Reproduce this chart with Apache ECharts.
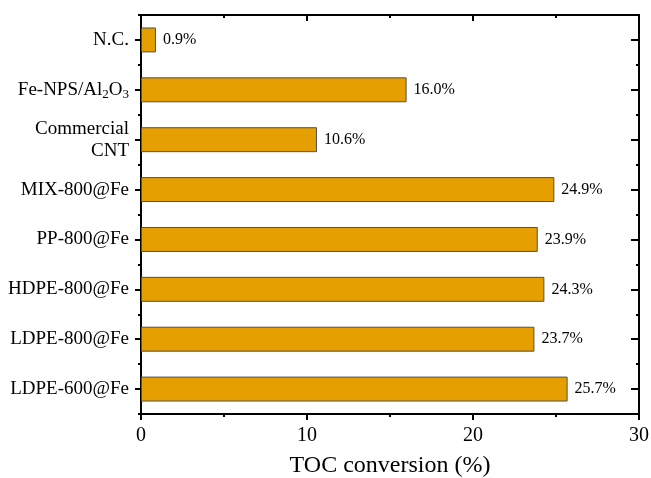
<!DOCTYPE html>
<html>
<head>
<meta charset="utf-8">
<script src="https://cdn.jsdelivr.net/npm/echarts@6/dist/echarts.min.js"></script>
<style>
html,body{margin:0;padding:0;background:#fff;}
#chart{width:651px;height:478px;}
</style>
</head>
<body>
<div id="chart"></div>
<script>
// Categories listed bottom to top
var categories = ['LDPE-600@Fe', 'LDPE-800@Fe', 'HDPE-800@Fe', 'PP-800@Fe', 'MIX-800@Fe', 'Commercial CNT', 'Fe-NPS/Al2O3', 'N.C.'];
var tocValues = [25.7, 23.7, 24.3, 23.9, 24.9, 10.6, 16.0, 0.9];
var xTicks = [0, 10, 20, 30];

var FONT = '"Liberation Serif", "Times New Roman", serif';
var chart = echarts.init(document.getElementById('chart'));

function catLabel(v) {
  if (v === 'Fe-NPS/Al2O3') return 'Fe-NPS/Al{sub|2}O{sub|3}';
  if (v === 'Commercial CNT') return 'Commercial\nCNT';
  return v;
}

var lineStyle = { color: '#000', width: 2 };

chart.setOption({
  animation: false,
  backgroundColor: '#fff',
  grid: { left: 141, right: 12, top: 15, bottom: 64, containLabel: false, outerBoundsMode: 'none' },
  xAxis: [{
    type: 'value', position: 'bottom',
    min: xTicks[0], max: xTicks[xTicks.length - 1], interval: 10,
    name: 'TOC conversion (%)', nameLocation: 'middle', nameGap: 40,
    nameTextStyle: { fontFamily: FONT, fontSize: 24, color: '#000' },
    axisLine: { show: true, lineStyle: lineStyle },
    axisTick: { show: true, inside: false, length: 6, lineStyle: lineStyle },
    minorTick: { show: true, splitNumber: 2, length: 3, lineStyle: { color: '#000', width: 2 } },
    splitLine: { show: false },
    axisLabel: { fontFamily: FONT, fontSize: 20, color: '#000', margin: 12 }
  }, {
    type: 'value', position: 'top',
    min: xTicks[0], max: xTicks[xTicks.length - 1], interval: 10,
    axisLine: { show: true, lineStyle: lineStyle },
    axisTick: { show: true, inside: true, length: 6, lineStyle: lineStyle },
    minorTick: { show: true, splitNumber: 2, length: 3, lineStyle: { color: '#000', width: 2 } },
    splitLine: { show: false },
    axisLabel: { show: false }
  }],
  yAxis: [{
    type: 'category', position: 'left', data: categories,
    axisLine: { show: true, onZero: false, lineStyle: lineStyle },
    axisTick: { show: true, alignWithLabel: true, inside: false, length: 6, lineStyle: lineStyle },
    axisLabel: {
      fontFamily: FONT, fontSize: 19, color: '#000', margin: 12, lineHeight: 22,
      formatter: catLabel,
      rich: {
        sub: { fontFamily: FONT, fontSize: 13, color: '#000', padding: [9, 0, 0, 0] }
      }
    },
    splitLine: { show: false }
  }, {
    type: 'category', position: 'left', data: categories,
    axisLine: { show: false, onZero: false },
    axisTick: { show: true, alignWithLabel: false, inside: false, length: 3, lineStyle: lineStyle },
    axisLabel: { show: false },
    splitLine: { show: false }
  }, {
    type: 'category', position: 'right', data: categories,
    axisLine: { show: true, onZero: false, lineStyle: lineStyle },
    axisTick: { show: true, alignWithLabel: true, inside: true, length: 8, lineStyle: lineStyle },
    axisLabel: { show: false },
    splitLine: { show: false }
  }, {
    type: 'category', position: 'right', data: categories,
    axisLine: { show: false, onZero: false },
    axisTick: { show: true, alignWithLabel: false, inside: true, length: 3, lineStyle: lineStyle },
    axisLabel: { show: false },
    splitLine: { show: false }
  }],
  series: [{
    type: 'bar',
    xAxisIndex: 0, yAxisIndex: 0,
    data: tocValues,
    barWidth: '50%',
    itemStyle: { color: '#E69F00', borderColor: '#505050', borderWidth: 1 },
    label: {
      show: true, position: 'right', distance: 7,
      fontFamily: FONT, fontSize: 16, color: '#000',
      formatter: function (p) { return p.value.toFixed(1) + '%'; }
    }
  }]
});
</script>
</body>
</html>
